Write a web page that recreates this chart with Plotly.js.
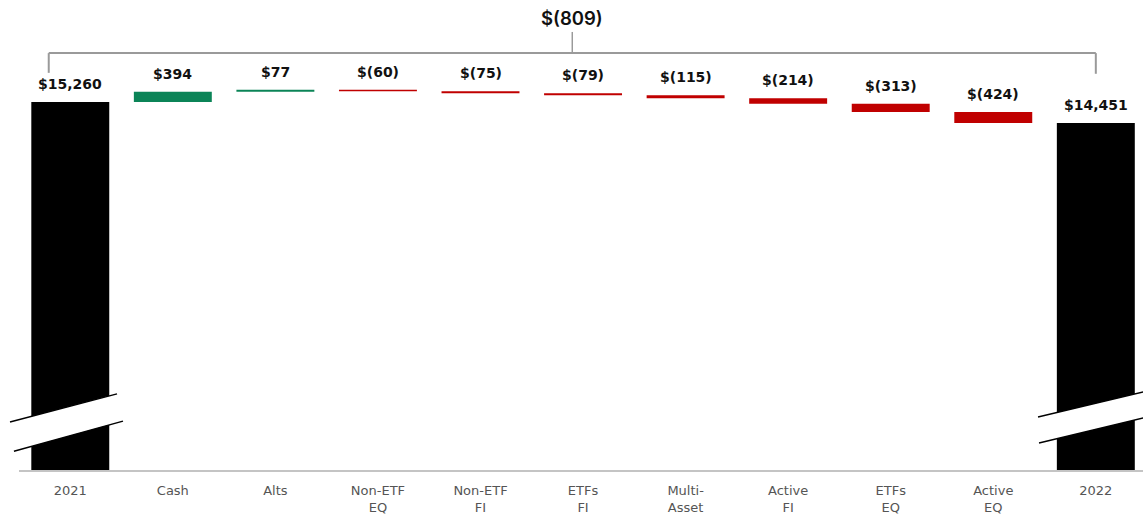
<!DOCTYPE html>
<html>
<head>
<meta charset="utf-8">
<script src="https://cdn.plot.ly/plotly-3.0.1.min.js"></script>
<style>html,body{margin:0;padding:0;background:#fff;}#chart{width:1143px;height:517px;}</style>
</head>
<body>
<div id="chart"></div>
<script>
// ---- data ----
const categories = ["2021", "Cash", "Alts", "Non-ETF<br>EQ", "Non-ETF<br>FI", "ETFs<br>FI", "Multi-<br>Asset", "Active<br>FI", "ETFs<br>EQ", "Active<br>EQ", "2022"];
const measures = ["absolute", "relative", "relative", "relative", "relative", "relative", "relative", "relative", "relative", "relative", "total"];
const values = [15260, 394, 77, -60, -75, -79, -115, -214, -313, -424, 14451];
const netChangeLabel = "$(809)";

function fmt(v) {
  const a = Math.abs(v).toLocaleString("en-US");
  return v < 0 ? "$(" + a + ")" : "$" + a;
}

const xIdx = categories.map((c, i) => i);

// label positions from running totals
let run = 0;
const tops = [];
values.forEach((v, i) => {
  if (measures[i] === "absolute") { run = v; tops.push(v); }
  else if (measures[i] === "total") { tops.push(run); }
  else { tops.push(Math.max(run, run + v)); run += v; }
});

const trace = {
  type: "waterfall",
  x: xIdx,
  y: values,
  measure: measures,
  textinfo: "none",
  hoverinfo: "skip",
  connector: { visible: false },
  increasing: { marker: { color: "#0b8457", line: { width: 0 } } },
  decreasing: { marker: { color: "#c00000", line: { width: 0 } } },
  totals: { marker: { color: "#000000", line: { width: 0 } } }
};

const annotations = values.map((v, i) => ({
  x: i, y: tops[i], xref: "x", yref: "y",
  text: fmt(measures[i] === "total" ? run : v),
  showarrow: false, yanchor: "bottom", yshift: 8,
  font: { family: "DejaVu Sans, sans-serif", size: 14, color: "#111", weight: 700 }
}));
annotations.push({
  x: 4.895, y: 0.962, xref: "x", yref: "paper",
  text: netChangeLabel, showarrow: false, yanchor: "middle",
  font: { family: "Inter, Roboto, sans-serif", size: 18.5, color: "#111", weight: 600 }
});

const grey = "#9a9a9a";
// paper x: (px - 19) / 1124 ; paper y: (470 - py) / 470
const shapes = [
  // bracket
  { type: "line", xref: "x", yref: "paper", x0: -0.21, x1: 10, y0: 0.887, y1: 0.887, line: { color: grey, width: 2 } },
  { type: "line", xref: "x", yref: "paper", x0: -0.21, x1: -0.21, y0: 0.887, y1: 0.845, line: { color: grey, width: 2 } },
  { type: "line", xref: "x", yref: "paper", x0: 10, x1: 10, y0: 0.887, y1: 0.843, line: { color: grey, width: 2 } },
  { type: "line", xref: "x", yref: "paper", x0: 4.895, x1: 4.895, y0: 0.887, y1: 0.932, line: { color: grey, width: 1.5 } },
  // break 2021
  { type: "path", xref: "paper", yref: "paper", path: "M -0.008 0.102 L 0.0872 0.162 L 0.0925 0.104 L -0.0045 0.040 Z", fillcolor: "#fff", line: { width: 0 } },
  { type: "line", xref: "paper", yref: "paper", x0: -0.008, y0: 0.102, x1: 0.0872, y1: 0.162, line: { color: "#000", width: 1.5 } },
  { type: "line", xref: "paper", yref: "paper", x0: -0.0045, y0: 0.040, x1: 0.0925, y1: 0.104, line: { color: "#000", width: 1.5 } },
  // break 2022
  { type: "path", xref: "paper", yref: "paper", path: "M 0.9066 0.1128 L 1.03 0.183 L 1.03 0.1277 L 0.9075 0.0574 Z", fillcolor: "#fff", line: { width: 0 } },
  { type: "line", xref: "paper", yref: "paper", x0: 0.9066, y0: 0.1128, x1: 1.03, y1: 0.183, line: { color: "#000", width: 1.5 } },
  { type: "line", xref: "paper", yref: "paper", x0: 0.9075, y0: 0.0574, x1: 1.03, y1: 0.1277, line: { color: "#000", width: 1.5 } }
];

const layout = {
  width: 1143, height: 517,
  margin: { l: 19, r: 0, t: 0, b: 47 },
  paper_bgcolor: "#fff", plot_bgcolor: "#fff",
  showlegend: false,
  waterfallgap: 0.24,
  xaxis: {
    type: "linear", range: [-0.5, 10.46],
    tickmode: "array", tickvals: xIdx, ticktext: categories,
    showgrid: false, zeroline: false,
    showline: true, linecolor: "#c4c4c4", linewidth: 2,
    ticks: "", ticklabelstandoff: 7,
    tickfont: { family: "DejaVu Sans, sans-serif", size: 13, color: "#555" }
  },
  yaxis: {
    range: [1085, 19189], visible: false, showgrid: false, zeroline: false
  },
  annotations: annotations,
  shapes: shapes
};

Plotly.newPlot("chart", [trace], layout, { displayModeBar: false, staticPlot: true });
</script>
</body>
</html>
